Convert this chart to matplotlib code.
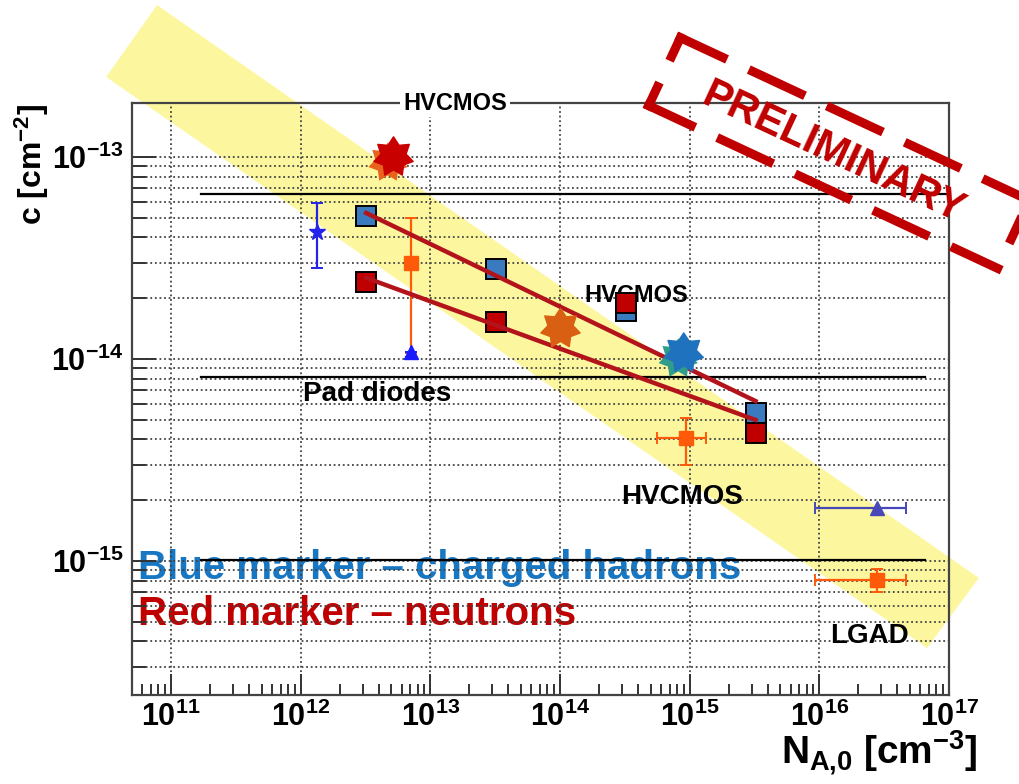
import numpy as np
import matplotlib
matplotlib.use("Agg")
import matplotlib.pyplot as plt
import matplotlib.patheffects as pe
from matplotlib import font_manager as fm
from matplotlib.lines import Line2D
from matplotlib.patches import Polygon
from matplotlib.path import Path
from matplotlib.transforms import Affine2D
from matplotlib.ticker import LogLocator, FuncFormatter, NullFormatter

# ---- values ----
# measured points: blue = charged hadrons, red = neutrons
sq_x = [3.2e12, 3.2e13, 3.2e14, 3.22e15]
hadron_c = [5.1e-14, 2.79e-14, 1.72e-14, 5.41e-15]
neutron_c = [2.40e-14, 1.52e-14, 1.89e-14, 4.31e-15]

# fitted lines through the measured points
fit_x = [3.2e12, 3.22e15]
fit_hadron = [5.28e-14, 6.19e-15]
fit_neutron = [2.52e-14, 4.99e-15]

# highlighted stars
star_x = [5.2e12, 1.0e14, 9.0e14]
star_c = [1.0e-13, 1.42e-14, 1.07e-14]
star_colors = ['#c80000', '#d95f12', '#1f72bd']
star_shadow = ['#e8641c', None, '#2f9c8c']

# other points with error bars
eb_x = [1.33e12, 7.1e12, 7.1e12, 9.3e14, 2.79e16, 2.79e16]
eb_c = [4.26e-14, 3.0e-14, 1.08e-14, 4.06e-15, 1.83e-15, 8.05e-16]
eb_xlo = [1.33e12, 7.1e12, 7.1e12, 5.6e14, 9.3e15, 9.3e15]
eb_xhi = [1.33e12, 7.1e12, 7.1e12, 1.33e15, 4.67e16, 4.67e16]
eb_clo = [2.82e-14, 1.07e-14, 1.02e-14, 2.98e-15, 1.83e-15, 7.03e-16]
eb_chi = [5.9e-14, 4.99e-14, 1.08e-14, 5.1e-15, 1.83e-15, 9.1e-16]
eb_marker = ['*', 's', '^', 's', '^', 's']
eb_color = ['#2424e8', '#ff5a0a', '#1a1aff', '#ff5a0a', '#4848b8', '#ff5a0a']

# horizontal reference lines
ref_c = [6.56e-14, 8.15e-15, 1.01e-15]
ref_x0 = 1.7e11
ref_x1 = [1e17, 6.5e16, 6.5e16]

# text labels in the plot
labels = ['HVCMOS', 'HVCMOS', 'Pad diodes', 'HVCMOS', 'LGAD']
label_x = [1.55e13, 3.9e14, 3.9e12, 8.8e14, 2.43e16]
label_c = [1.85e-13, 2.05e-14, 6.71e-15, 2.07e-15, 4.26e-16]
label_size = [17, 17, 20, 20, 20]

# yellow trend band (corners)
band_x = [7.8e10, 1.70e17, 6.78e16, 3.16e10]
band_c = [5.65e-13, 8.24e-16, 3.71e-16, 2.49e-13]

xmin, xmax = 5e10, 1e17
cmin, cmax = 2.17e-16, 1.85e-13

plt.rcParams['font.family'] = 'Liberation Sans'
plt.rcParams['font.weight'] = 'bold'
plt.rcParams['mathtext.fontset'] = 'custom'
for k in ['rm', 'it', 'bf', 'sf']:
    plt.rcParams['mathtext.' + k] = 'Liberation Sans:bold'
plt.rcParams['lines.scale_dashes'] = False

have_narrow = any(f.name == 'Liberation Sans Narrow' for f in fm.fontManager.ttflist)


def star_marker(n=7, inner=0.64):
    ang = np.pi / 2 + np.arange(2 * n) * np.pi / n
    r = np.where(np.arange(2 * n) % 2 == 0, 1.0, inner)
    verts = np.column_stack([r * np.cos(ang), r * np.sin(ang)])
    verts = np.vstack([verts, verts[:1]])
    codes = [Path.MOVETO] + [Path.LINETO] * (2 * n - 1) + [Path.CLOSEPOLY]
    return Path(verts, codes)


fig = plt.figure(figsize=(10.2, 7.84), dpi=100)
ax = fig.add_axes([132 / 1020, 1 - 695 / 784, 817 / 1020, 592 / 784])
ax.set_xscale('log')
ax.set_yscale('log')
ax.set_xlim(xmin, xmax)
ax.set_ylim(cmin, cmax)

for a in [ax.xaxis, ax.yaxis]:
    a.set_major_locator(LogLocator(base=10, numticks=20))
    a.set_minor_locator(LogLocator(base=10, subs=np.arange(2, 10), numticks=20))
    a.set_minor_formatter(NullFormatter())
    a.set_major_formatter(FuncFormatter(lambda v, p: r'$10^{%d}$' % round(np.log10(v))))

ax.tick_params(which='both', direction='in', top=False, right=False,
               color='#333333', width=1.4, labelsize=22)
ax.tick_params(axis='x', which='major', length=15, pad=5)
ax.tick_params(axis='x', which='minor', length=8)
ax.tick_params(axis='y', which='major', length=17, pad=6)
ax.tick_params(axis='y', which='minor', length=10)
for s in ax.spines.values():
    s.set_color('#444444')
    s.set_linewidth(1.6)

ax.grid(True, axis='x', which='major', ls=(0, (1.3, 2)), color='#444444', lw=1.3)
ax.grid(True, axis='y', which='both', ls=(0, (1.3, 2)), color='#444444', lw=1.3)

# yellow band
ax.add_patch(Polygon(np.column_stack([band_x, band_c]), closed=True,
                     facecolor='#fcf79e', edgecolor='none', zorder=0.3, clip_on=False))

# reference lines
for c, x1 in zip(ref_c, ref_x1):
    ax.plot([ref_x0, x1], [c, c], color='black', lw=1.6, zorder=2)

# labels
for i, s in enumerate(labels):
    if i == 0:
        ax.text(label_x[i], 1.0, s, transform=ax.get_xaxis_transform(), ha='center',
                va='center', fontsize=label_size[i], zorder=6, clip_on=False,
                bbox=dict(facecolor='white', edgecolor='none', pad=2))
    else:
        ax.text(label_x[i], label_c[i], s, ha='center', va='center',
                fontsize=label_size[i], zorder=2.5)

# error bar points
for i in range(len(eb_x)):
    x, c = eb_x[i], eb_c[i]
    ax.errorbar([x], [c], xerr=[[x - eb_xlo[i]], [eb_xhi[i] - x]],
                yerr=[[c - eb_clo[i]], [eb_chi[i] - c]], fmt=eb_marker[i],
                color=eb_color[i], ms=12 if eb_marker[i] == '*' else 10,
                elinewidth=1.6, capsize=4, capthick=1.4, zorder=3)

# measured squares
ax.plot(sq_x, hadron_c, 's', ms=14, color='#3a7bbf', mec='black', mew=1.4, zorder=3.2)
ax.plot(sq_x, neutron_c, 's', ms=14, color='#c00000', mec='black', mew=1.4, zorder=3.4)

# fits
ax.plot(fit_x, fit_hadron, color='#b3141b', lw=3.2, zorder=4)
ax.plot(fit_x, fit_neutron, color='#b3141b', lw=3.2, zorder=4)

# stars
star = star_marker()
for x, c, col, sh in zip(star_x, star_c, star_colors, star_shadow):
    effects = None
    if sh is not None:
        effects = [pe.SimplePatchShadow(offset=(-4, -4), shadow_rgbFace=sh, alpha=1.0), pe.Normal()]
    ax.plot([x], [c], marker=star, ms=29, color=col, mec=col, ls='none',
            zorder=5, path_effects=effects)

# legend-like text
ax.text(0.007, 0.2145, 'Blue marker \u2013 charged hadrons', transform=ax.transAxes,
        color='#1877c2', fontsize=29, ha='left', va='center', zorder=1)
ax.text(0.007, 0.137, 'Red marker \u2013 neutrons', transform=ax.transAxes,
        color='#c00000', fontsize=29, ha='left', va='center', zorder=1)

# axis titles
fig.text(32 / 1020, 1 - 104 / 784, r'c [cm$^{-2}$]', rotation=90, ha='center', va='top', fontsize=23)
fig.text(978 / 1020, 1 - 753 / 784, r'$N_{A{,}0}$ [cm$^{-3}$]', ha='right', va='center', fontsize=28)

# PRELIMINARY stamp, placed in image pixels (y pointing down)
px = Affine2D().scale(1, -1).translate(0, 784)
stamp_c = np.array([839.0, 153.0])
stamp_w, stamp_h, stamp_ang = 385, 75, 25
ang = np.deg2rad(stamp_ang)
u = np.array([np.cos(ang), np.sin(ang)])
v = np.array([-np.sin(ang), np.cos(ang)])
tl = stamp_c - u * stamp_w / 2 - v * stamp_h / 2
tr = stamp_c + u * stamp_w / 2 - v * stamp_h / 2
br = stamp_c + u * stamp_w / 2 + v * stamp_h / 2
bl = stamp_c - u * stamp_w / 2 + v * stamp_h / 2
lw_px, d, g = 9, 62, 24
px2pt = 0.72
for p, q in [(tl, tr), (tr, br), (br, bl), (bl, tl)]:
    L = np.hypot(*(q - p))
    n = max(0, int(round((L - 1.6 * d - g) / (d + g))))
    e = (L - n * d - (n + 1) * g) / 2
    dd, gg, ee = d - lw_px, g + lw_px, e - lw_px / 2
    ls = ((dd - ee) * px2pt, (dd * px2pt, gg * px2pt))
    fig.add_artist(Line2D([p[0], q[0]], [p[1], q[1]], transform=px, color='#c00000',
                          lw=lw_px * px2pt, ls=ls, dash_capstyle='projecting',
                          solid_capstyle='projecting', zorder=10))

if have_narrow:
    stamp_font, stamp_size = 'Liberation Sans Narrow', 37
else:
    stamp_font, stamp_size = 'Liberation Sans', 30
fig.text(833, 153, 'PRELIMINARY', transform=px, rotation=-stamp_ang, rotation_mode='anchor',
         ha='center', va='center', color='#c00000', fontsize=stamp_size,
         fontweight='bold', family=stamp_font, zorder=10)

fig.savefig('out.png', dpi=100)
